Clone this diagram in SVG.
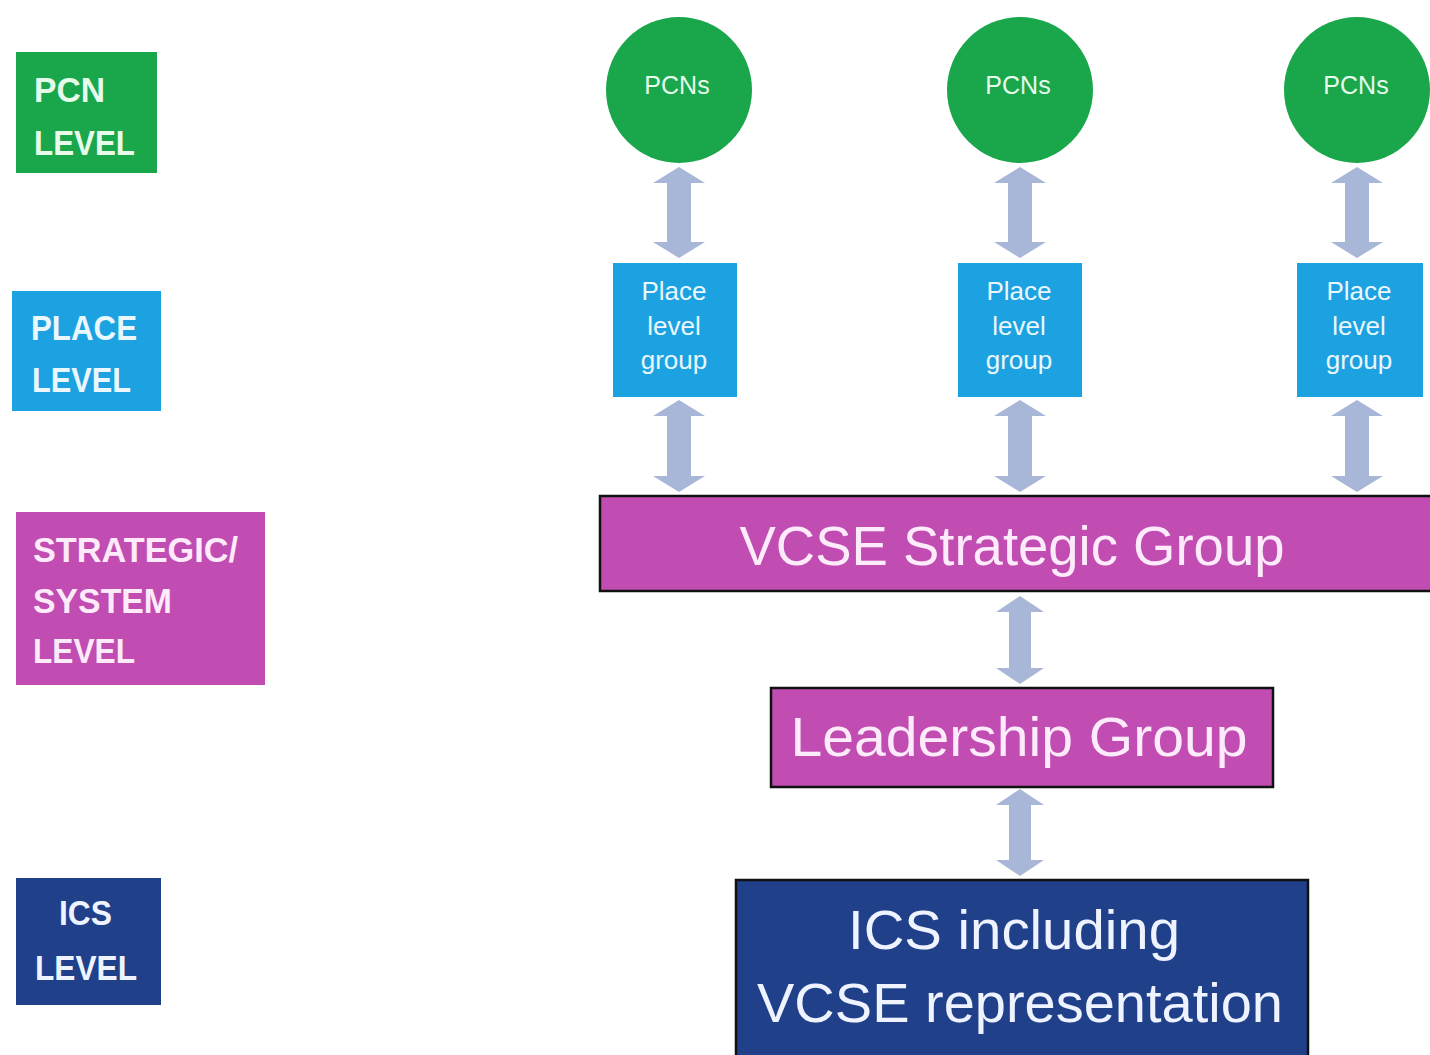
<svg xmlns="http://www.w3.org/2000/svg" width="1430" height="1055" viewBox="0 0 1430 1055">
<style>
text{font-family:"Liberation Sans",Arial,sans-serif;text-anchor:middle}
.lbl{font-weight:bold;font-size:35px;text-anchor:start}
.green{fill:#1aa64b}
.blue{fill:#1ca2e0}
.mag{fill:#c14db2}
.navy{fill:#20408a}
.wg{fill:#e6fbea}
.wb{fill:#eaf7ff}
.wm{fill:#fdeafa}
.wn{fill:#eef3ff}
.arrow{fill:#a8b6d8}
.edge{stroke:#111;stroke-width:2.5}
.pcn{font-size:25px}
.place{font-size:26px}
.big{font-size:55px}
</style>
<rect width="1430" height="1055" fill="#ffffff"/>

<g id="lbl-pcn">
<rect class="green" x="16" y="52" width="141" height="121"/>
<text class="lbl wg" x="34" y="102" textLength="71" lengthAdjust="spacingAndGlyphs">PCN</text>
<text class="lbl wg" x="34" y="155" textLength="101" lengthAdjust="spacingAndGlyphs">LEVEL</text>
</g>
<g id="lbl-place">
<rect class="blue" x="12" y="291" width="149" height="120"/>
<text class="lbl wb" x="31" y="340" textLength="106" lengthAdjust="spacingAndGlyphs">PLACE</text>
<text class="lbl wb" x="32" y="392" textLength="99" lengthAdjust="spacingAndGlyphs">LEVEL</text>
</g>
<g id="lbl-strategic">
<rect class="mag" x="16" y="512" width="249" height="173"/>
<text class="lbl wm" x="33" y="562" textLength="205" lengthAdjust="spacingAndGlyphs">STRATEGIC/</text>
<text class="lbl wm" x="33" y="613" textLength="139" lengthAdjust="spacingAndGlyphs">SYSTEM</text>
<text class="lbl wm" x="33" y="663" textLength="102" lengthAdjust="spacingAndGlyphs">LEVEL</text>
</g>
<g id="lbl-ics">
<rect class="navy" x="16" y="878" width="145" height="127"/>
<text class="lbl wn" x="59" y="925" textLength="53" lengthAdjust="spacingAndGlyphs">ICS</text>
<text class="lbl wn" x="35" y="980" textLength="102" lengthAdjust="spacingAndGlyphs">LEVEL</text>
</g>

<g id="connectors">
<path class="arrow" d="M679,167 L705,183 L691,183 L691,242 L705,242 L679,258 L653,242 L667,242 L667,183 L653,183 Z"/>
<path class="arrow" d="M1020,167 L1046,183 L1032,183 L1032,242 L1046,242 L1020,258 L994,242 L1008,242 L1008,183 L994,183 Z"/>
<path class="arrow" d="M1357,167 L1383,183 L1369,183 L1369,242 L1383,242 L1357,258 L1331,242 L1345,242 L1345,183 L1331,183 Z"/>
<path class="arrow" d="M679,400 L705,416 L691,416 L691,476 L705,476 L679,492 L653,476 L667,476 L667,416 L653,416 Z"/>
<path class="arrow" d="M1020,400 L1046,416 L1032,416 L1032,476 L1046,476 L1020,492 L994,476 L1008,476 L1008,416 L994,416 Z"/>
<path class="arrow" d="M1357,400 L1383,416 L1369,416 L1369,476 L1383,476 L1357,492 L1331,476 L1345,476 L1345,416 L1331,416 Z"/>
<path class="arrow" d="M1020,596 L1044,612 L1031,612 L1031,668 L1044,668 L1020,684 L996,668 L1009,668 L1009,612 L996,612 Z"/>
<path class="arrow" d="M1020,789 L1044,805 L1031,805 L1031,860 L1044,860 L1020,876 L996,860 L1009,860 L1009,805 L996,805 Z"/>
</g>

<g id="pcn1"><circle class="green" cx="679" cy="90" r="73"/><text class="pcn wg" x="677" y="94">PCNs</text></g>
<g id="pcn2"><circle class="green" cx="1020" cy="90" r="73"/><text class="pcn wg" x="1018" y="94">PCNs</text></g>
<g id="pcn3"><circle class="green" cx="1357" cy="90" r="73"/><text class="pcn wg" x="1356" y="94">PCNs</text></g>

<g id="place1"><rect class="blue" x="613" y="263" width="124" height="134"/>
<text class="place wb" x="674" y="300">Place</text><text class="place wb" x="674" y="335">level</text><text class="place wb" x="674" y="369">group</text></g>
<g id="place2"><rect class="blue" x="958" y="263" width="124" height="134"/>
<text class="place wb" x="1019" y="300">Place</text><text class="place wb" x="1019" y="335">level</text><text class="place wb" x="1019" y="369">group</text></g>
<g id="place3"><rect class="blue" x="1297" y="263" width="126" height="134"/>
<text class="place wb" x="1359" y="300">Place</text><text class="place wb" x="1359" y="335">level</text><text class="place wb" x="1359" y="369">group</text></g>

<g id="vcse-strategic"><rect class="mag edge" x="600" y="496" width="840" height="95"/>
<text class="big wm" x="1012" y="565" textLength="545" lengthAdjust="spacingAndGlyphs">VCSE Strategic Group</text></g>

<g id="leadership"><rect class="mag edge" x="771" y="688" width="502" height="99"/>
<text class="big wm" x="1019" y="756" textLength="457" lengthAdjust="spacingAndGlyphs">Leadership Group</text></g>

<g id="ics"><rect class="navy edge" x="736" y="880" width="572" height="190"/>
<text class="big wn" x="1014" y="949" textLength="332" lengthAdjust="spacingAndGlyphs">ICS including</text>
<text class="big wn" x="1020" y="1022" textLength="526" lengthAdjust="spacingAndGlyphs">VCSE representation</text></g>
</svg>
